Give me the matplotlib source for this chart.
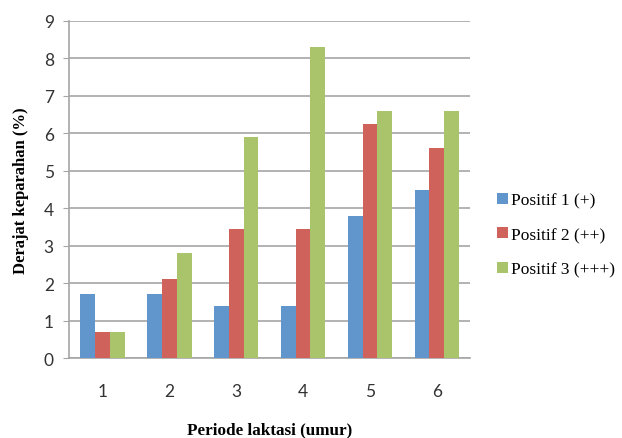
import numpy as np
import matplotlib
matplotlib.use('Agg')
import matplotlib.pyplot as plt

# data
periods = ['1', '2', '3', '4', '5', '6']
positif1 = [1.7, 1.7, 1.4, 1.4, 3.8, 4.5]
positif2 = [0.7, 2.1, 3.45, 3.45, 6.25, 5.6]
positif3 = [0.7, 2.8, 5.9, 8.3, 6.6, 6.6]
series_names = ['Positif 1 (+)', 'Positif 2 (++)', 'Positif 3 (+++)']
colors = ['#6096CB', '#D0625C', '#A9C46A']

fig = plt.figure(figsize=(6.22, 4.39), dpi=100)
ax = fig.add_axes([0.111, 0.182, 0.645, 0.768])

x = np.arange(len(periods))
w = 0.222
for i, (vals, name, c) in enumerate(zip([positif1, positif2, positif3], series_names, colors)):
    ax.bar(x + (i - 1) * w, vals, width=w, color=c, label=name, zorder=3)

ax.set_xlim(-0.5, len(periods) - 0.5)
ax.set_ylim(0, 9)
ax.set_yticks(range(0, 10))
ax.set_xticks(x)
ax.set_xticklabels(periods)

ax.yaxis.grid(True, color='#a6a6a6', linewidth=1.2, zorder=0)
for s in ['top', 'right']:
    ax.spines[s].set_visible(False)
for s in ['left', 'bottom']:
    ax.spines[s].set_color('#a6a6a6')
    ax.spines[s].set_linewidth(1.2)

ax.tick_params(axis='y', length=4, color='#a6a6a6', labelsize=12.5, pad=7)
ax.tick_params(axis='x', length=0, labelsize=12.5, pad=18)
for lbl in ax.get_xticklabels() + ax.get_yticklabels():
    lbl.set_fontfamily('Lato')
    lbl.set_color('#333333')

ax.set_xlabel('Periode laktasi (umur)', fontfamily='Liberation Serif',
              fontweight='bold', fontsize=12.3, va='center')
ax.set_ylabel('Derajat keparahan (%)', fontfamily='Liberation Serif',
              fontweight='bold', fontsize=12, va='center')
ax.xaxis.set_label_coords(0.5, -0.21)
ax.yaxis.set_label_coords(-0.12, 0.5)

ax.legend(loc='center left', bbox_to_anchor=(1.028, 0.365), frameon=False,
          prop={'family': 'Liberation Serif', 'size': 12.5},
          handlelength=0.6, handleheight=0.6, handletextpad=0.2,
          labelspacing=1.05)

fig.savefig('out.png', dpi=100)
